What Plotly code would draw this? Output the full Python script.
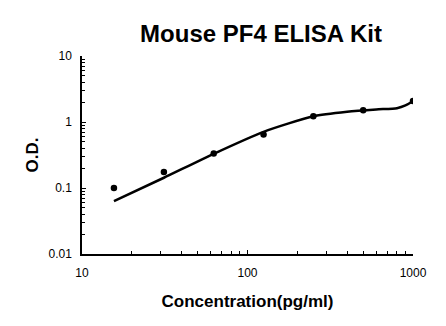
import plotly.graph_objects as go

# Standard points
conc = [15.6, 31.25, 62.5, 125, 250, 500, 1000]
od = [0.10, 0.175, 0.334, 0.645, 1.22, 1.51, 2.08]

# Fitted curve
curve_x = [15.6, 31.25, 62.5, 125, 250, 400, 600, 800, 900, 1000]
curve_y = [0.063, 0.143, 0.33, 0.71, 1.22, 1.43, 1.55, 1.62, 1.78, 2.08]

title_text = "Mouse PF4 ELISA Kit"
x_title = "Concentration(pg/ml)"
y_title = "O.D."
x_ticks = [10, 100, 1000]
x_ticklabels = ["10", "100", "1000"]
y_ticks = [0.01, 0.1, 1, 10]
y_ticklabels = ["0.01", "0.1", "1", "10"]

font = "Liberation Sans, Arial, sans-serif"

fig = go.Figure()
fig.add_trace(go.Scatter(x=curve_x, y=curve_y, mode="lines",
                         line=dict(color="black", width=2.5, shape="spline", smoothing=0.6),
                         hoverinfo="skip", showlegend=False))
fig.add_trace(go.Scatter(x=conc, y=od, mode="markers",
                         marker=dict(color="black", size=6.5), showlegend=False))

fig.update_layout(
    width=446, height=326,
    margin=dict(l=82, r=33, t=56, b=72),
    paper_bgcolor="white", plot_bgcolor="white",
    font=dict(family=font, color="black", size=12),
    title=dict(text="<b>" + title_text + "</b>", x=261/446, xref="container", xanchor="center",
               y=1 - 34/326, yref="container", yanchor="middle",
               font=dict(size=24, family=font, color="black")),
    showlegend=False,
)
fig.update_xaxes(type="log", range=[1, 3], showgrid=False, zeroline=False,
                 showline=True, linecolor="black", linewidth=1.5,
                 ticks="inside", ticklen=4, tickcolor="black", tickwidth=1,
                 tickvals=x_ticks, ticktext=x_ticklabels,
                 tickfont=dict(size=12, color="black"), ticklabelstandoff=7,
                 minor=dict(ticks="inside", ticklen=3, tickcolor="black", tickwidth=1,
                            tickvals=[20, 30, 40, 50, 60, 70, 80, 90, 200, 300, 400, 500, 600, 700, 800, 900], showgrid=False),
                 title=dict(text="<b>" + x_title + "</b>", font=dict(size=17, color="black"), standoff=16),
                 mirror=False)
fig.update_yaxes(type="log", range=[-2, 1], showgrid=False, zeroline=False,
                 showline=True, linecolor="black", linewidth=1.5,
                 ticks="inside", ticklen=4, tickcolor="black", tickwidth=1,
                 tickvals=y_ticks, ticktext=y_ticklabels,
                 tickfont=dict(size=12, color="black"), ticklabelstandoff=6,
                 minor=dict(ticks="inside", ticklen=3, tickcolor="black", tickwidth=1,
                            tickvals=[0.02, 0.03, 0.04, 0.05, 0.06, 0.07, 0.08, 0.09,
                                      0.2, 0.3, 0.4, 0.5, 0.6, 0.7, 0.8, 0.9,
                                      2, 3, 4, 5, 6, 7, 8, 9], showgrid=False),
                 title=dict(text="<b>" + y_title + "</b>", font=dict(size=17, color="black"), standoff=6),
                 mirror=False)

fig.write_html("out.html")
